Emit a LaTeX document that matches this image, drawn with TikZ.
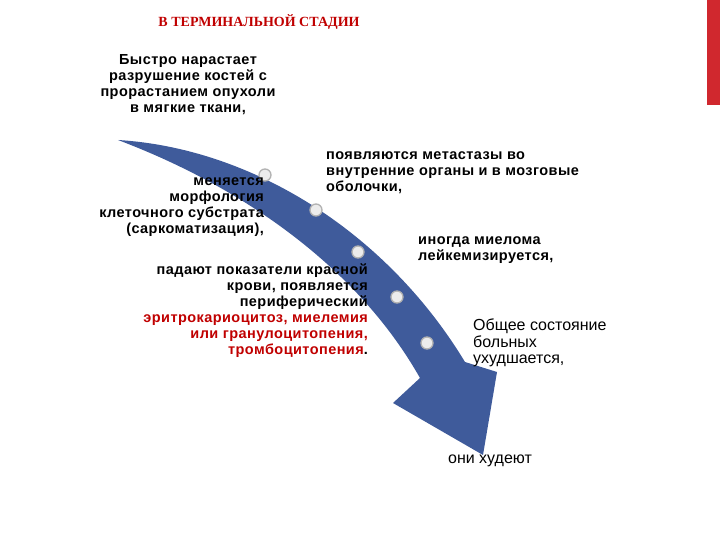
\documentclass[tikz,border=0pt]{standalone}
\usepackage{fontspec}
\setmainfont{Liberation Sans}
\newfontfamily\serifb{Liberation Serif}
\newfontfamily\spaced[LetterSpace=3]{Liberation Sans}
\definecolor{arrowblue}{HTML}{3F5B9B}
\definecolor{titlered}{HTML}{C00000}
\definecolor{barred}{HTML}{D0282E}
\begin{document}
\begin{tikzpicture}[x=1pt,y=-1pt,
  txt/.style={font=\spaced\bfseries\fontsize{14.5}{16}\selectfont,inner sep=0pt},
  txtr/.style={font=\fontsize{16}{16.5}\selectfont,inner sep=0pt},
  dot/.style={circle,minimum size=12pt,inner sep=0pt,fill=gray!15,draw=gray!60,line width=1.3pt}]
\useasboundingbox (0,0) rectangle (720,540);
\fill[barred] (707,0) rectangle (720,105);
\node[font=\serifb\bfseries\fontsize{14}{16}\selectfont,text=titlered,inner sep=0pt] (title) at (259,22) {В ТЕРМИНАЛЬНОЙ СТАДИИ};
\fill[arrowblue] (118,140) .. controls (250,148) and (385,230) .. (465,362)
  -- (497,372) -- (483,455) -- (393,403) -- (420,378)
  .. controls (360,272) and (250,190) .. (118,140) -- cycle;
\node[dot] (d1) at (265,175) {};
\node[dot] (d2) at (316,210) {};
\node[dot] (d3) at (358,252) {};
\node[dot] (d4) at (397,297) {};
\node[dot] (d5) at (427,343) {};
\node[txt,align=center,anchor=north] (t1) at (188,54) {Быстро нарастает\\разрушение костей с\\прорастанием опухоли\\в мягкие ткани,};
\node[txt,align=right,anchor=north east] (t2) at (264,177) {меняется\\морфология\\клеточного субстрата\\(саркоматизация),};
\node[txt,align=left,anchor=north west] (t3) at (326,151) {появляются метастазы во\\внутренние органы и в мозговые\\оболочки,};
\node[txt,align=left,anchor=north west] (t4) at (418,236) {иногда миелома\\лейкемизируется,};
\node[txt,align=right,anchor=north east] (t5) at (368,264) {падают показатели красной\\крови, появляется\\периферический\\\textcolor{titlered}{эритрокариоцитоз, миелемия}\\\textcolor{titlered}{или гранулоцитопения,}\\\textcolor{titlered}{тромбоцитопения}.};
\node[txtr,align=left,anchor=north west] (t6) at (473,319) {Общее состояние\\больных\\ухудшается,};
\node[txtr,anchor=north] (t7) at (490,455) {они худеют};
\end{tikzpicture}
\end{document}
